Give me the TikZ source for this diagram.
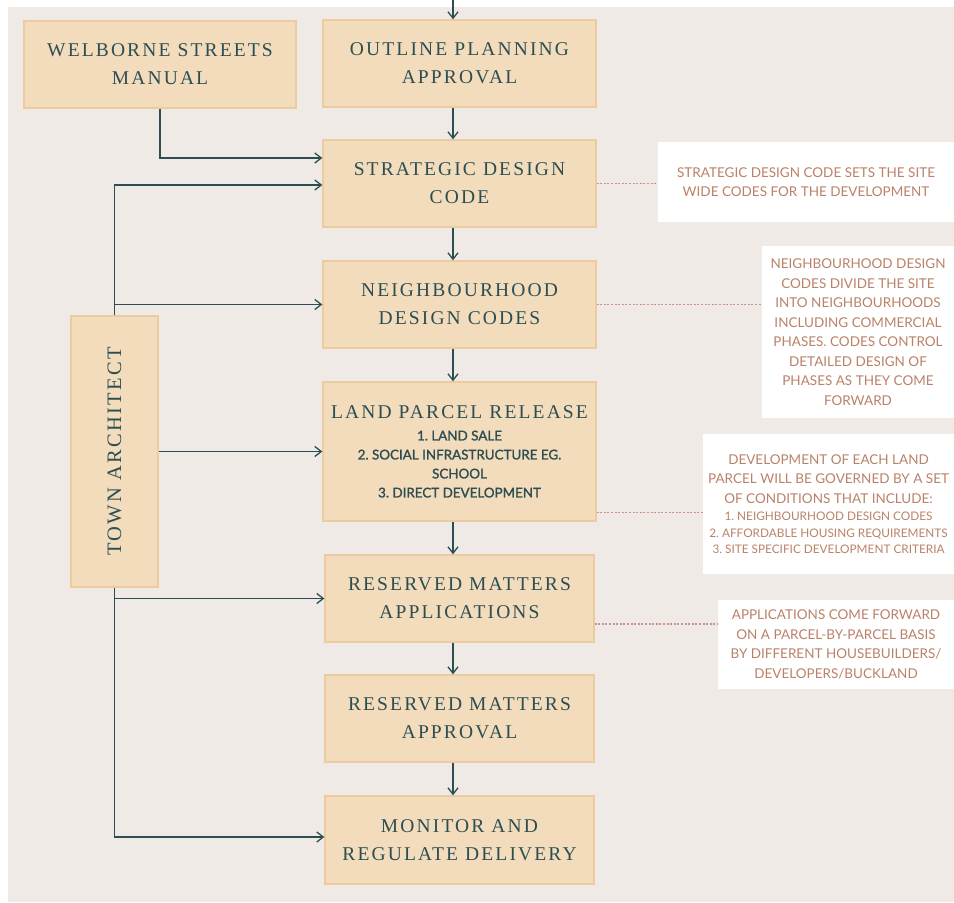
\documentclass[tikz,border=0pt]{standalone}
\usepackage{fontspec}
\usepackage{graphicx}
\usetikzlibrary{arrows.meta,calc}
\frenchspacing
\newfontfamily\boxfont[LetterSpace=11]{Liberation Serif}
\newfontfamily\notefont{Lato}
\newfontfamily\listfont[FakeBold=1.4]{Lato}
\definecolor{bgc}{RGB}{239,234,230}
\definecolor{boxfill}{RGB}{243,220,188}
\definecolor{boxline}{RGB}{236,203,160}
\definecolor{teal}{RGB}{44,78,82}
\definecolor{notetext}{RGB}{186,130,104}
\definecolor{dotc}{RGB}{196,150,136}
\tikzset{
  stagebox/.style={draw=boxline, line width=1.3pt, fill=boxfill, inner sep=0pt,
    text=teal, align=center, font=\frenchspacing\boxfont\fontsize{19.5}{28}\selectfont},
  notebox/.style={fill=white, inner sep=0pt, text=notetext, align=center,
    font=\frenchspacing\notefont\fontsize{13.5}{19.5}\selectfont},
  arr/.style={draw=teal, line width=1.4pt, -{Straight Barb[length=6.5pt,width=10pt,line width=1.3pt]}},
  dotline/.style={draw=dotc, line width=1.1pt, dash pattern=on 2pt off 1.6pt}
}
\begin{document}
\begin{tikzpicture}[x=1pt,y=-1pt]
\useasboundingbox (0,0) rectangle (954,903);
\fill[bgc] (8,7) rectangle (954,902);

% stage boxes
\node[stagebox, minimum width=272pt, minimum height=87pt] (wel) at (160,64.5) {WELBORNE STREETS\\MANUAL};
\node[stagebox, minimum width=273pt, minimum height=87pt] (opa) at (459.5,63.5) {OUTLINE PLANNING\\APPROVAL};
\node[stagebox, minimum width=273pt, minimum height=87pt] (sdc) at (459.5,183.5) {STRATEGIC DESIGN\\CODE};
\node[stagebox, minimum width=273pt, minimum height=87pt] (nd) at (459.5,304.5) {NEIGHBOURHOOD\\DESIGN CODES};
\node[stagebox, minimum width=273pt, minimum height=139pt] (lpr) at (459.5,451.5)
  {LAND PARCEL RELEASE\\[-6pt]
   {\listfont\fontsize{13.4}{18.5}\selectfont 1. LAND SALE}\\[-9pt]
   {\listfont\fontsize{13.4}{18.5}\selectfont 2. SOCIAL INFRASTRUCTURE EG.}\\[-9pt]
   {\listfont\fontsize{13.4}{18.5}\selectfont SCHOOL}\\[-9pt]
   {\listfont\fontsize{13.4}{18.5}\selectfont 3. DIRECT DEVELOPMENT}};
\node[stagebox, minimum width=269pt, minimum height=87pt] (rma) at (459.5,598.5) {RESERVED MATTERS\\APPLICATIONS};
\node[stagebox, minimum width=269pt, minimum height=87pt] (rmp) at (459.5,718.5) {RESERVED MATTERS\\APPROVAL};
\node[stagebox, minimum width=269pt, minimum height=88pt] (mon) at (459.5,840) {MONITOR AND\\REGULATE DELIVERY};
\node[stagebox, minimum width=87pt, minimum height=271pt] (ta) at (114.5,451.5) {\rotatebox{90}{\fontsize{20.5}{28}\selectfont TOWN ARCHITECT}};

% notes
\node[notebox, minimum width=296pt, minimum height=80pt] (n1) at (806,182)
  {STRATEGIC DESIGN CODE SETS THE SITE\\WIDE CODES FOR THE DEVELOPMENT};
\node[notebox, minimum width=192pt, minimum height=172pt] (n2) at (858,332)
  {NEIGHBOURHOOD DESIGN\\CODES DIVIDE THE SITE\\INTO NEIGHBOURHOODS\\INCLUDING COMMERCIAL\\PHASES. CODES CONTROL\\DETAILED DESIGN OF\\PHASES AS THEY COME\\FORWARD};
\node[notebox, minimum width=251pt, minimum height=140pt] (n3) at (828.5,504)
  {DEVELOPMENT OF EACH LAND\\PARCEL WILL BE GOVERNED BY A SET\\OF CONDITIONS THAT INCLUDE:\\[-2pt]
   {\fontsize{11.8}{17}\selectfont 1. NEIGHBOURHOOD DESIGN CODES}\\[-3pt]
   {\fontsize{11.8}{17}\selectfont 2. AFFORDABLE HOUSING REQUIREMENTS}\\[-3pt]
   {\fontsize{11.8}{17}\selectfont 3. SITE SPECIFIC DEVELOPMENT CRITERIA}};
\node[notebox, minimum width=236pt, minimum height=89pt] (n4) at (836,644.5)
  {APPLICATIONS COME FORWARD\\ON A PARCEL-BY-PARCEL BASIS\\BY DIFFERENT HOUSEBUILDERS/\\DEVELOPERS/BUCKLAND};

% main vertical flow
\coordinate (topin) at (453,0);
\draw[arr] (topin) -- (topin |- opa.north);
\draw[arr] ([xshift=-6.5pt]opa.south) -- ([xshift=-6.5pt]sdc.north);
\draw[arr] ([xshift=-6.5pt]sdc.south) -- ([xshift=-6.5pt]nd.north);
\draw[arr] ([xshift=-6.5pt]nd.south) -- ([xshift=-6.5pt]lpr.north);
\draw[arr] ([xshift=-6.5pt]lpr.south) -- ([xshift=-6.5pt]rma.north);
\draw[arr] ([xshift=-6.5pt]rma.south) -- ([xshift=-6.5pt]rmp.north);
\draw[arr] ([xshift=-6.5pt]rmp.south) -- ([xshift=-6.5pt]mon.north);

% side inputs
\draw[arr] (wel.south) |- ([yshift=25.5pt]sdc.west);
\draw[arr] (ta.north) |- ([yshift=-1.5pt]sdc.west);
\draw[arr] (ta.north |- nd.west) -- (nd.west);
\draw[arr] (ta.east) -- (lpr.west);
\draw[arr] (ta.south) |- (rma.west);
\draw[arr] (ta.south) |- ([yshift=3pt]mon.west);

% dotted leaders
\draw[dotline] (sdc.east) -- (sdc.east -| n1.west);
\draw[dotline] (nd.east) -- (nd.east -| n2.west);
\draw[dotline] ([yshift=9pt]lpr.south east) -- ([yshift=9pt]lpr.south east -| n3.west);
\draw[dotline] ([yshift=-25.5pt]rma.east) -- ([yshift=-25.5pt]rma.east -| n4.west);
\end{tikzpicture}
\end{document}
